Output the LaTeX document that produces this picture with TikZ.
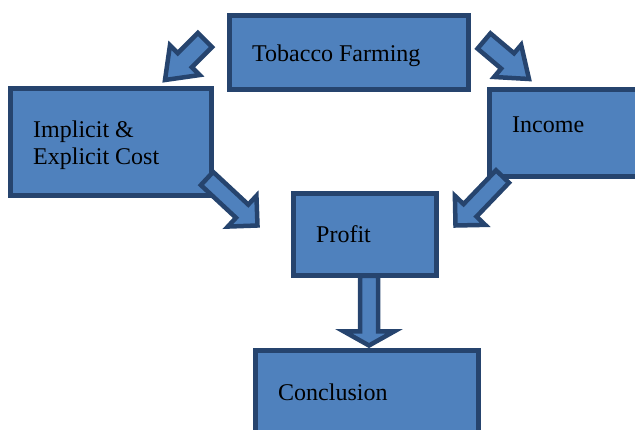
\documentclass[tikz,border=0pt]{standalone}
\usepackage{fontspec}
\setmainfont{Liberation Serif}
\usetikzlibrary{calc}
\definecolor{boxfill}{HTML}{4F81BD}
\definecolor{boxline}{HTML}{26446E}
\tikzset{
  box/.style={draw=boxline, fill=boxfill, line width=5pt, rectangle, inner sep=0pt},
  lbl/.style={anchor=base west, inner sep=0pt, font=\fontsize{24}{27}\selectfont, text=black},
  blk/.style={draw=boxline, fill=boxfill, line width=4.5pt, line join=miter},
}
% block arrow: tail, tip, shaft half-width, head half-width, head length
\newcommand{\bkarrow}[5]{%
  \coordinate (hb) at ($(#2)!#5!(#1)$);
  \filldraw[blk] ($(#1)!#3!90:(#2)$) -- ($(hb)!#3!90:(#2)$) -- ($(hb)!#4!90:(#2)$)
    -- (#2) -- ($(hb)!#4!-90:(#2)$) -- ($(hb)!#3!-90:(#2)$) -- ($(#1)!#3!-90:(#2)$) -- cycle;
}
\begin{document}
\begin{tikzpicture}[x=1pt,y=-1pt]
\path[use as bounding box] (0,0) rectangle (635,430);
\clip (0,0) rectangle (635,430);

% boxes
\node[box, minimum width=239pt, minimum height=74pt] (farm) at (349,52.5) {};
\node[box, minimum width=201pt, minimum height=107pt] (cost) at (110.5,142.5) {};
\node[box, minimum width=191pt, minimum height=87pt] (income) at (584.5,133.5) {};
\node[box, minimum width=143pt, minimum height=82pt] (profit) at (364.5,235) {};
\node[box, minimum width=223pt, minimum height=99pt] (concl) at (366.5,400.5) {};

% labels
\node[lbl] (farmT) at (252,62) {Tobacco Farming};
\node[lbl] (costT1) at (33,138) {Implicit \&};
\node[lbl] (costT2) at (33,165) {Explicit Cost};
\node[lbl] (incomeT) at (512,133) {Income};
\node[lbl] (profitT) at (316,243) {Profit};
\node[lbl] (conclT) at (278,401) {Conclusion};

% arrow end points
\coordinate (a1) at (205,40);      \coordinate (b1) at (165,80);
\coordinate (a2) at (484,41);      \coordinate (b2) at (529,79);
\coordinate (a3) at (207,178.5);   \coordinate (b3) at (257.5,225.5);
\coordinate (a4) at (502.5,176.5); \coordinate (b4) at (455.5,225.5);
\coordinate (a5) at (369,276);     \coordinate (b5) at (369,345.5);

% block arrows
\bkarrow{a1}{b1}{10pt}{21pt}{28pt}
\bkarrow{a2}{b2}{10pt}{21pt}{28pt}
\bkarrow{a3}{b3}{9pt}{21pt}{21pt}
\bkarrow{a4}{b4}{9pt}{21pt}{21pt}
\bkarrow{a5}{b5}{9pt}{25pt}{14pt}
\end{tikzpicture}
\end{document}
